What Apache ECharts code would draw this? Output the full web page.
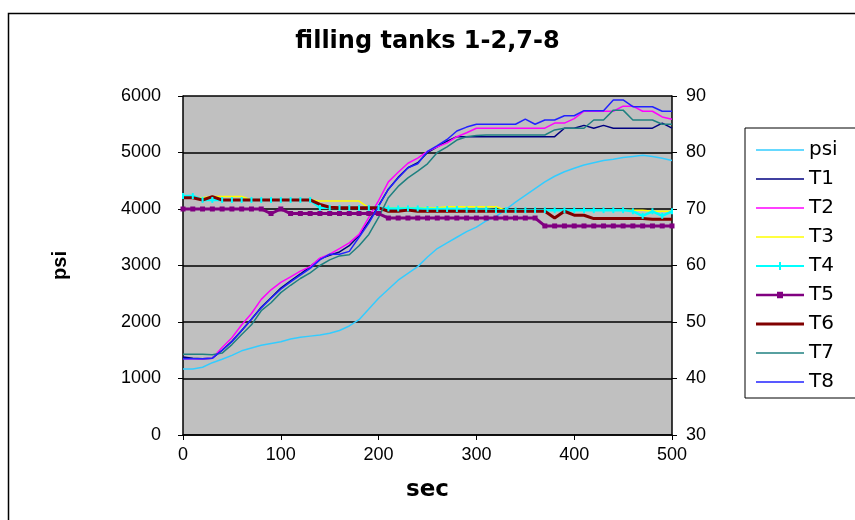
<!DOCTYPE html>
<html>
<head>
<meta charset="utf-8">
<script src="https://cdn.jsdelivr.net/npm/echarts@6/dist/echarts.min.js"></script>
<style>html,body{margin:0;padding:0;background:#fff}#c{width:855px;height:520px}</style>
</head>
<body>
<div id="c"></div>
<script>
// time (sec)
const times = [0,10,20,30,40,50,60,70,80,90,100,110,120,130,140,150,160,170,180,190,200,210,220,230,240,250,260,270,280,290,300,310,320,330,340,350,360,370,380,390,400,410,420,430,440,450,460,470,480,490,500];
// pressure (left axis)
const psi = [1170,1170,1200,1280,1340,1410,1490,1540,1590,1620,1650,1700,1730,1750,1770,1800,1850,1930,2040,2230,2420,2580,2740,2860,2980,3150,3300,3400,3500,3600,3680,3790,3870,3990,4120,4240,4360,4480,4580,4660,4720,4780,4820,4860,4880,4910,4930,4950,4930,4900,4860];
// tank temperatures (right axis)
const T1 = [43.8,43.6,43.5,43.6,45.0,46.6,48.5,50.5,52.6,54.3,56.0,57.3,58.5,59.8,61.2,61.8,62.4,63.5,65.3,67.8,70.6,73.5,75.6,77.3,78.2,80.0,81.0,82.0,82.8,82.8,82.8,82.8,82.8,82.8,82.8,82.8,82.8,82.8,82.8,84.3,84.3,84.8,84.3,84.8,84.3,84.3,84.3,84.3,84.3,85.2,84.3];
const T2 = [43.5,43.5,43.5,43.6,45.5,47.2,49.5,51.5,54.0,55.7,57.0,58.0,59.0,59.8,61.3,62.0,63.0,64.0,65.5,68.5,71.5,74.8,76.5,78.1,79.0,80.2,81.0,81.7,82.8,83.5,84.3,84.3,84.3,84.3,84.3,84.3,84.3,84.3,85.2,85.2,86.0,87.3,87.3,87.3,87.3,88.2,88.2,87.3,87.3,86.3,85.9];
const T3 = [72.0,72.0,72.0,72.2,72.2,72.2,72.2,71.6,71.6,71.6,71.6,71.6,71.6,71.6,71.4,71.4,71.4,71.4,71.4,70.2,70.2,70.2,70.2,70.2,70.2,70.2,70.2,70.4,70.4,70.4,70.4,70.4,70.4,69.8,69.8,69.8,69.8,69.8,69.8,69.8,69.8,69.8,69.8,69.8,69.8,69.8,69.8,69.8,69.6,69.6,69.6];
const T4 = [72.3,72.3,71.6,71.6,71.6,71.6,71.6,71.6,71.6,71.6,71.6,71.6,71.6,71.6,70.2,70.2,70.2,70.2,70.2,70.2,70.2,70.1,70.1,70.1,70.1,70.0,70.0,70.0,70.0,69.9,69.9,69.9,69.8,69.8,69.8,69.8,69.8,69.8,69.8,69.8,69.8,69.8,69.8,69.8,69.8,69.8,69.6,68.8,69.6,68.8,69.6];
const T5 = [70.0,70.0,70.0,70.0,70.0,70.0,70.0,70.0,70.0,69.2,70.0,69.2,69.2,69.2,69.2,69.2,69.2,69.2,69.2,69.2,69.2,68.4,68.4,68.4,68.4,68.4,68.4,68.4,68.4,68.4,68.4,68.4,68.4,68.4,68.4,68.4,68.4,67.0,67.0,67.0,67.0,67.0,67.0,67.0,67.0,67.0,67.0,67.0,67.0,67.0,67.0];
const T6 = [72.0,72.0,71.6,72.2,71.6,71.6,71.6,71.6,71.6,71.6,71.6,71.6,71.6,71.6,70.8,70.3,70.2,70.2,70.2,70.2,70.2,69.6,69.6,69.8,69.6,69.6,69.6,69.6,69.6,69.6,69.6,69.6,69.6,69.6,69.6,69.6,69.6,69.6,68.4,69.6,68.9,68.9,68.3,68.3,68.3,68.3,68.3,68.3,68.2,68.2,68.2];
const T7 = [44.3,44.3,44.3,44.2,44.5,46.0,47.8,49.5,52.0,53.4,55.2,56.5,57.7,58.7,60.0,61.0,61.7,61.9,63.5,65.5,68.5,72.0,74.0,75.5,76.7,78.0,80.0,81.0,82.2,82.8,83.0,83.1,83.1,83.1,83.1,83.1,83.1,83.1,84.0,84.3,84.3,84.3,85.75,85.75,87.5,87.5,85.75,85.75,85.75,85.0,85.0];
const T8 = [43.5,43.5,43.5,43.6,45.0,46.5,48.5,50.5,52.5,54.2,55.8,57.1,58.3,59.5,61.0,62.0,62.0,62.5,65.0,67.5,70.5,73.5,75.5,77.3,78.0,80.2,81.2,82.3,83.8,84.5,85.0,85.0,85.0,85.0,85.0,85.9,85.0,85.75,85.75,86.5,86.5,87.4,87.4,87.4,89.3,89.3,88.1,88.1,88.1,87.3,87.3];

const FONT = 'Liberation Sans, Arial, sans-serif';
const WIDE = 'DejaVu Sans, sans-serif';
const pair = arr => times.map((t, i) => [t, arr[i]]);

const LINE = 'path://M0,0L48,0L48,1.6L0,1.6Z';
const THICK = 'path://M0,0L48,0L48,3L0,3Z';
const TICKLINE = 'path://M0,3L48,3L48,5L0,5ZM23,0L25,0L25,8L23,8Z';
const SQLINE = 'path://M0,3L48,3L48,5.5L0,5.5ZM21,1L27,1L27,7.5L21,7.5Z';

const defs = [
  {name:'psi', data:psi, color:'#33ccff', width:1.5, axis:0, icon:LINE},
  {name:'T1', data:T1, color:'#000080', width:1.5, axis:1, icon:LINE},
  {name:'T2', data:T2, color:'#ff00ff', width:1.5, axis:1, icon:LINE},
  {name:'T3', data:T3, color:'#ffff00', width:1.5, axis:1, icon:LINE},
  {name:'T4', data:T4, color:'#00ffff', width:2.5, axis:1, symbol:'rect', symbolSize:[2,6], icon:TICKLINE},
  {name:'T5', data:T5, color:'#800080', width:3, axis:1, symbol:'rect', symbolSize:5, icon:SQLINE},
  {name:'T6', data:T6, color:'#800000', width:3, axis:1, icon:THICK},
  {name:'T7', data:T7, color:'#1f8080', width:1.5, axis:1, icon:LINE},
  {name:'T8', data:T8, color:'#2222ff', width:1.5, axis:1, icon:LINE}
];

const chart = echarts.init(document.getElementById('c'), null, {renderer:'canvas'});
chart.setOption({
  animation: false,
  backgroundColor: '#fff',
  textStyle: {fontFamily: FONT},
  title: {
    text: 'filling tanks 1-2,7-8',
    left: 'center', top: 25,
    textStyle: {fontFamily: WIDE, fontWeight: 'bold', fontSize: 24, color: '#000'}
  },
  graphic: [{
    type: 'rect', left: 6, top: 11, z: -1, silent: true,
    shape: {width: 1000, height: 1000},
    style: {fill: 'none', stroke: '#000', lineWidth: 1.5}
  }],
  legend: {
    orient: 'vertical', left: 745, top: 128,
    itemWidth: 48, itemHeight: 14, itemGap: 9,
    padding: [12, 40, 6, 11],
    borderColor: '#000', borderWidth: 1,
    backgroundColor: '#fff',
    textStyle: {fontSize: 20, color: '#000', fontFamily: WIDE},
    data: defs.map(d => ({name: d.name, icon: d.icon}))
  },
  grid: {
    left: 183, right: 183, top: 96, bottom: 85,
    show: true, backgroundColor: '#c0c0c0', borderWidth: 0
  },
  xAxis: {
    type: 'value', min: 0, max: 500, interval: 100,
    name: 'sec', nameLocation: 'middle', nameGap: 44,
    nameTextStyle: {fontWeight: 'bold', fontSize: 23, color: '#000', fontFamily: WIDE},
    axisLine: {show: true, lineStyle: {color: '#000', width: 1.5}},
    axisTick: {show: true, length: 5, lineStyle: {color: '#000'}},
    axisLabel: {fontSize: 18, color: '#000', margin: 11, formatter: v => String(v)},
    splitLine: {show: false}
  },
  yAxis: [{
    type: 'value', min: 0, max: 6000, interval: 1000, position: 'left',
    name: 'psi', nameLocation: 'middle', nameGap: 113, nameRotate: 90,
    nameTextStyle: {fontWeight: 'bold', fontSize: 20, color: '#000', fontFamily: FONT},
    axisLine: {show: true, lineStyle: {color: '#000', width: 1.5}},
    axisTick: {show: true, length: 5, lineStyle: {color: '#000'}},
    axisLabel: {fontSize: 18, color: '#000', margin: 22, formatter: v => String(v)},
    splitLine: {show: true, lineStyle: {color: '#000', width: 1.5}}
  }, {
    type: 'value', min: 30, max: 90, interval: 10, position: 'right',
    axisLine: {show: true, lineStyle: {color: '#000', width: 1.5}},
    axisTick: {show: true, length: 5, lineStyle: {color: '#000'}},
    axisLabel: {fontSize: 18, color: '#000', margin: 14, formatter: v => String(v)},
    splitLine: {show: false}
  }],
  series: defs.map(d => ({
    name: d.name, type: 'line', yAxisIndex: d.axis,
    data: pair(d.data),
    symbol: d.symbol || 'none',
    symbolSize: d.symbolSize || 0,
    showSymbol: !!d.symbol,
    color: d.color,
    itemStyle: {color: d.color},
    lineStyle: {color: d.color, width: d.width}
  }))
});
</script>
</body>
</html>
